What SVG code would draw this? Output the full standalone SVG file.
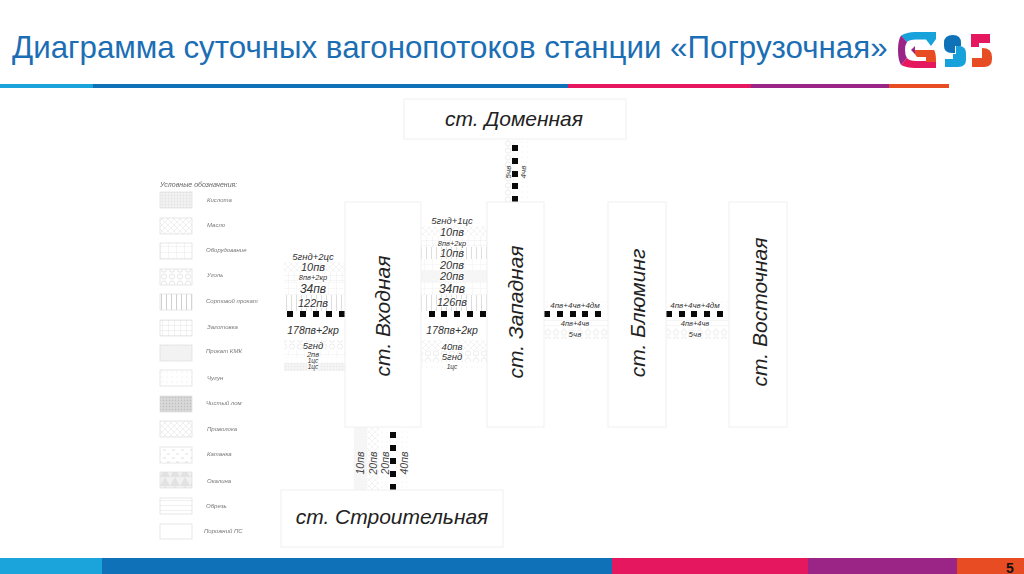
<svg xmlns="http://www.w3.org/2000/svg" width="1024" height="574" viewBox="0 0 1024 574">
<style>
text{font-family:"Liberation Sans",Arial,sans-serif}
.title{font-size:31.3px;fill:#1c6eb4}
.st{fill:#fff;stroke:#f0f0f0;stroke-width:1}
.sl{font-size:21px;font-style:italic;fill:#222;text-anchor:middle}
.f{font-style:italic;fill:#333;text-anchor:middle;stroke:#fff;stroke-width:2px;paint-order:stroke;stroke-opacity:.85}
.v{font-style:italic;fill:#444;text-anchor:middle}
.f12{font-size:12px}.f11{font-size:11px}.f10{font-size:10.500px}.f9{font-size:9.500px}.f8{font-size:8px}.f7{font-size:7.500px}.f6{font-size:6.500px}
.lg{font-size:6px;font-style:italic;fill:#777}
.lt{font-size:7px;font-style:italic;fill:#666}
.sw{stroke:#ddd;stroke-width:.7}
.dot{fill:#0a0a0a}
.soft{filter:url(#b)}
.pale{filter:url(#b);opacity:.7}
</style>
<defs>
<filter id="b" x="-5%" y="-5%" width="110%" height="110%"><feGaussianBlur stdDeviation="0.35"/></filter>
<pattern id="p1" width="3" height="3" patternUnits="userSpaceOnUse"><rect width="3" height="3" fill="#f3f3f3"/><path d="M0 0H3M0 0V3" stroke="#d5d5d5" stroke-width=".6"/></pattern>
<pattern id="p2" width="6" height="6" patternUnits="userSpaceOnUse"><path d="M0 3L3 0L6 3L3 6Z" fill="none" stroke="#e6e6e6" stroke-width=".6"/></pattern>
<pattern id="p3" width="8" height="6" patternUnits="userSpaceOnUse"><path d="M0 0H8M0 0V6" stroke="#e0e0e0" stroke-width=".7"/></pattern>
<pattern id="p4" width="8" height="7" patternUnits="userSpaceOnUse"><circle cx="4" cy="3.500" r="2.600" fill="none" stroke="#dedede" stroke-width=".8"/></pattern>
<pattern id="p5" width="5" height="10" patternUnits="userSpaceOnUse"><path d="M1.500 0V10" stroke="#c9c9c9" stroke-width=".9"/></pattern>
<pattern id="p6" width="6" height="5" patternUnits="userSpaceOnUse"><path d="M0 0H6M0 0V5" stroke="#d4d4d4" stroke-width=".6"/></pattern>
<pattern id="p7" width="3" height="3" patternUnits="userSpaceOnUse"><rect width="3" height="3" fill="#f4f4f4"/><path d="M0 3L3 0" stroke="#eaeaea" stroke-width=".5"/></pattern>
<pattern id="p8" width="5" height="5" patternUnits="userSpaceOnUse"><circle cx="2" cy="2" r=".5" fill="#ddd"/></pattern>
<pattern id="p9" width="3" height="3" patternUnits="userSpaceOnUse"><rect width="3" height="3" fill="#d8d8d8"/><circle cx="1.500" cy="1.500" r=".7" fill="#bdbdbd"/></pattern>
<pattern id="p10" width="6" height="6" patternUnits="userSpaceOnUse"><path d="M0 6L6 0M0 0L6 6" stroke="#e4e4e4" stroke-width=".6"/></pattern>
<pattern id="p11" width="9" height="8" patternUnits="userSpaceOnUse"><path d="M1 2h3M5 6h3" stroke="#dcdcdc" stroke-width=".9"/></pattern>
<pattern id="p12" width="10" height="9" patternUnits="userSpaceOnUse"><rect width="10" height="9" fill="#f1f1f1"/><path d="M0 9L5 0L10 9Z" fill="#e2e2e2"/></pattern>
<pattern id="p13" width="20" height="5" patternUnits="userSpaceOnUse"><path d="M0 0H20" stroke="#d3d3d3" stroke-width=".7"/></pattern>
</defs>

<g id="header">
<text class="title" x="12" y="58">Диаграмма суточных вагонопотоков станции «Погрузочная»</text>
<rect x="0" y="84" width="93" height="4" fill="#1ba3dc"/>
<rect x="93" y="84" width="475" height="4" fill="#0f72b8"/>
<rect x="568" y="84" width="183" height="4" fill="#e5175f"/>
<rect x="751" y="84" width="138" height="4" fill="#9b2487"/>
<rect x="889" y="84" width="60" height="4" fill="#e84c22"/>
</g>

<g id="logo">
<path d="M936 32V39L931 46L926 39.500H916Q909 39.500 907 42L901 35.500Q907 32 915 32Z" fill="#17a2dc"/>
<path d="M901 35.500L907 42Q905 45 905 50Q905 55 907 58L901 65Q898 60 898 50Q898 40 901 35.500Z" fill="#9b2487"/>
<path d="M901 65L907 58Q909 61 916 61H926V62H936V68H915Q907 68 901 65Z" fill="#e5175f"/>
<path d="M912 50H934Q936 52 936 62H926V57H917Z" fill="#e84c22"/>
<path d="M911 50L915 46V54Z" fill="#9b2487"/>
<path d="M944 43Q944 35 953 35Q961 35 961 43V46H955V53H952Q944 53 944 46Z" fill="#0f72b8"/>
<path d="M956 46H960Q966 47 966 53V60Q966 67 958 67H945V59H953V54H956Z" fill="#17a2dc"/>
<path d="M971 34H990V43H979V47H971Z" fill="#e5175f"/>
<path d="M972 67V58H982V48Q992 48 992 57V59Q992 67 984 67Z" fill="#e84c22"/>
</g>

<g id="legend" class="soft">
<text class="lt" x="160" y="187">Условные обозначения:</text>
<rect class="sw" x="160" y="192" width="32" height="16" fill="url(#p1)"/><text class="lg" x="207" y="202">Кислота</text>
<rect class="sw" x="160" y="218" width="32" height="16" fill="url(#p2)"/><text class="lg" x="207" y="227">Масло</text>
<rect class="sw" x="160" y="243" width="32" height="16" fill="url(#p3)"/><text class="lg" x="206" y="252">Оборудование</text>
<rect class="sw" x="160" y="269" width="32" height="16" fill="url(#p4)"/><text class="lg" x="207" y="277">Уголь</text>
<rect class="sw" x="160" y="294" width="32" height="16" fill="url(#p5)"/><text class="lg" x="206" y="303">Сортовой прокат</text>
<rect class="sw" x="160" y="320" width="32" height="16" fill="url(#p6)"/><text class="lg" x="207" y="329">Заготовка</text>
<rect class="sw" x="160" y="345" width="32" height="16" fill="url(#p7)"/><text class="lg" x="206" y="353">Прокат КМК</text>
<rect class="sw" x="160" y="370" width="32" height="16" fill="url(#p8)"/><text class="lg" x="207" y="380">Чугун</text>
<rect class="sw" x="160" y="396" width="32" height="16" fill="url(#p9)"/><text class="lg" x="206" y="405">Чистый лом</text>
<rect class="sw" x="160" y="421" width="32" height="16" fill="url(#p10)"/><text class="lg" x="207" y="431">Проволока</text>
<rect class="sw" x="160" y="447" width="32" height="16" fill="url(#p11)"/><text class="lg" x="207" y="456">Катанка</text>
<rect class="sw" x="160" y="472" width="32" height="16" fill="url(#p12)"/><text class="lg" x="207" y="483">Окалина</text>
<rect class="sw" x="160" y="498" width="32" height="16" fill="url(#p13)"/><text class="lg" x="206" y="508">Обрезь</text>
<rect class="sw" x="160" y="524" width="32" height="15" fill="#fff"/><text class="lg" x="204" y="533">Порожний ПС</text>
</g>

<g id="connectors">
<g id="flow-vhodnaya-west" class="pale">
<rect x="284" y="262" width="61" height="10" fill="url(#p2)"/>
<rect x="284" y="272" width="61" height="10" fill="url(#p6)"/>
<rect x="284" y="282" width="61" height="13" fill="url(#p3)"/>
<rect x="284" y="295" width="61" height="16" fill="url(#p5)"/>
<rect x="284" y="340" width="61" height="10" fill="url(#p4)"/>
<rect x="284" y="350" width="61" height="7" fill="url(#p3)"/>
<rect x="284" y="357" width="61" height="6" fill="url(#p8)"/>
<rect x="284" y="363" width="61" height="8" fill="url(#p1)"/>
</g>
<g id="flow-vhodnaya-zapadnaya" class="pale">
<rect x="421" y="226" width="66" height="10" fill="url(#p2)"/>
<rect x="421" y="236" width="66" height="11" fill="url(#p6)"/>
<rect x="421" y="247" width="66" height="12" fill="url(#p5)"/>
<rect x="421" y="259" width="66" height="11" fill="url(#p3)"/>
<rect x="421" y="270" width="66" height="12" fill="url(#p7)"/>
<rect x="421" y="282" width="66" height="13" fill="url(#p3)"/>
<rect x="421" y="295" width="66" height="16" fill="url(#p5)"/>
<rect x="421" y="340" width="66" height="11" fill="url(#p2)"/>
<rect x="421" y="351" width="66" height="11" fill="url(#p4)"/>
<rect x="421" y="362" width="66" height="9" fill="url(#p8)"/>
</g>
<g id="flow-zapadnaya-bluming" class="pale">
<rect x="544" y="299" width="64" height="11" fill="url(#p8)"/>
<rect x="544" y="319" width="64" height="9" fill="url(#p13)"/>
<rect x="544" y="328" width="64" height="11" fill="url(#p4)"/>
</g>
<g id="flow-bluming-vostochnaya" class="pale">
<rect x="666" y="299" width="63" height="11" fill="url(#p8)"/>
<rect x="666" y="319" width="63" height="9" fill="url(#p13)"/>
<rect x="666" y="328" width="63" height="11" fill="url(#p4)"/>
</g>
<g id="flow-domennaya-zapadnaya" class="pale">
<rect x="503" y="139" width="11" height="63" fill="url(#p4)"/>
<rect x="518" y="139" width="10" height="63" fill="url(#p8)"/>
</g>
<g id="flow-stroitelnaya-vhodnaya" class="pale">
<rect x="354" y="427" width="13" height="63" fill="url(#p7)"/>
<rect x="367" y="427" width="12" height="63" fill="url(#p2)"/>
<rect x="379" y="427" width="12" height="63" fill="url(#p8)"/>
<rect x="396" y="427" width="13" height="63" fill="url(#p8)"/>
</g>
<g id="track-dots" class="dot">
<rect x="287" y="311" width="6" height="6"/><rect x="300" y="311" width="6" height="6"/><rect x="313" y="311" width="6" height="6"/><rect x="326" y="311" width="6" height="6"/><rect x="339" y="311" width="6" height="6"/>
<rect x="429" y="311" width="6" height="6"/><rect x="441" y="311" width="6" height="6"/><rect x="454" y="311" width="6" height="6"/><rect x="467" y="311" width="6" height="6"/><rect x="480" y="311" width="6" height="6"/>
<rect x="544" y="311" width="6" height="6"/><rect x="557" y="311" width="6" height="6"/><rect x="570" y="311" width="6" height="6"/><rect x="582" y="311" width="6" height="6"/><rect x="595" y="311" width="6" height="6"/>
<rect x="666" y="311" width="6" height="6"/><rect x="679" y="311" width="6" height="6"/><rect x="691" y="311" width="6" height="6"/><rect x="704" y="311" width="6" height="6"/><rect x="717" y="311" width="6" height="6"/>
<rect x="512" y="145" width="6" height="6"/><rect x="512" y="158" width="6" height="6"/><rect x="512" y="171" width="6" height="6"/><rect x="512" y="183" width="6" height="6"/><rect x="512" y="196" width="6" height="6"/>
<rect x="390" y="432" width="6" height="6"/><rect x="390" y="445" width="6" height="6"/><rect x="390" y="458" width="6" height="6"/><rect x="390" y="471" width="6" height="6"/><rect x="390" y="484" width="6" height="6"/>
</g>
<g id="flow-labels">
<text class="f f9" x="313" y="260">5гнд+2цс</text>
<text class="f f11" x="313" y="271">10пв</text>
<text class="f f7" x="313" y="280">8пв+2кр</text>
<text class="f f12" x="313" y="293">34пв</text>
<text class="f f11" x="313" y="307">122пв</text>
<text class="f f10" x="313" y="334">178пв+2кр</text>
<text class="f f9" x="313" y="349">5гнд</text>
<text class="f f7" x="313" y="357">2пв</text>
<text class="f f6" x="313" y="363">1цс</text>
<text class="f f6" x="313" y="369">1цс</text>

<text class="f f9" x="452" y="224">5гнд+1цс</text>
<text class="f f11" x="452" y="236">10пв</text>
<text class="f f7" x="452" y="246">8пв+2кр</text>
<text class="f f11" x="452" y="257">10пв</text>
<text class="f f11" x="452" y="269">20пв</text>
<text class="f f11" x="452" y="280">20пв</text>
<text class="f f12" x="452" y="293">34пв</text>
<text class="f f11" x="452" y="306">126пв</text>
<text class="f f10" x="452" y="334">178пв+2кр</text>
<text class="f f9" x="452" y="350">40пв</text>
<text class="f f9" x="452" y="360">5гнд</text>
<text class="f f6" x="452" y="369">1цс</text>

<text class="f f8" x="575" y="308">4пв+4чв+4дм</text>
<text class="f f7" x="575" y="326">4пв+4чв</text>
<text class="f f8" x="575" y="337">5чв</text>
<text class="f f8" x="695" y="308">4пв+4чв+4дм</text>
<text class="f f7" x="695" y="326">4пв+4чв</text>
<text class="f f8" x="695" y="337">5чв</text>

<text class="v f8" transform="translate(511 172) rotate(-90)">5чв</text>
<text class="v f8" transform="translate(526 172) rotate(-90)">4чв</text>
<text class="v f10" transform="translate(364 463) rotate(-90)">10пв</text>
<text class="v f10" transform="translate(377 463) rotate(-90)">20пв</text>
<text class="v f10" transform="translate(389 463) rotate(-90)">20пв</text>
<text class="v f10" transform="translate(408 463) rotate(-90)">40пв</text>
</g>
</g>

<g id="st-domennaya"><rect class="st" x="404" y="99" width="222" height="40"/><text class="sl" x="514" y="126">ст. Доменная</text></g>
<g id="st-vhodnaya"><rect class="st" x="345" y="202" width="76" height="225"/><text class="sl" transform="translate(390 316) rotate(-90)">ст. Входная</text></g>
<g id="st-zapadnaya"><rect class="st" x="487" y="202" width="57" height="225"/><text class="sl" transform="translate(523 312) rotate(-90)">ст. Западная</text></g>
<g id="st-bluming"><rect class="st" x="608" y="202" width="58" height="225"/><text class="sl" transform="translate(645 313) rotate(-90)">ст. Блюминг</text></g>
<g id="st-vostochnaya"><rect class="st" x="729" y="202" width="58" height="225"/><text class="sl" transform="translate(767 312) rotate(-90)">ст. Восточная</text></g>
<g id="st-stroitelnaya"><rect class="st" x="281" y="490" width="222" height="57"/><text class="sl" x="392" y="524">ст. Строительная</text></g>

<g id="footer">
<rect x="0" y="558" width="102" height="16" fill="#1ba3dc"/>
<rect x="102" y="558" width="510" height="16" fill="#0f72b8"/>
<rect x="612" y="558" width="196" height="16" fill="#e5175f"/>
<rect x="808" y="558" width="149" height="16" fill="#9b2487"/>
<rect x="957" y="558" width="67" height="16" fill="#e84c22"/>
<text x="1010" y="573" font-size="14" font-weight="bold" fill="#111" text-anchor="middle">5</text>
</g>
</svg>
